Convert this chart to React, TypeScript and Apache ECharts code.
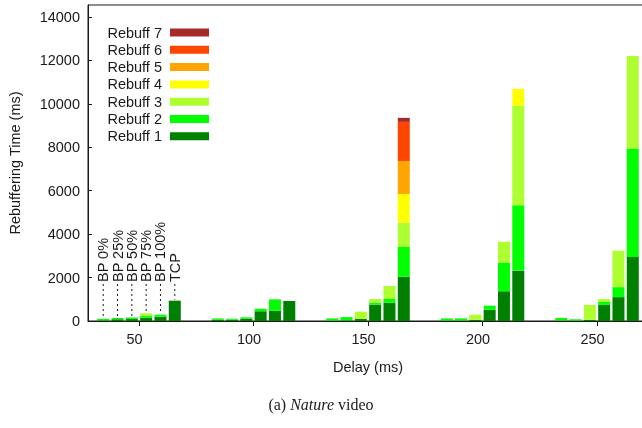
import React, { useEffect, useRef } from "react";
import * as echarts from "echarts";

const delays = [50, 100, 150, 200, 250];
const variants = ["BP 0%", "BP 25%", "BP 50%", "BP 75%", "BP 100%", "TCP"];
const levels = ["Rebuff 1", "Rebuff 2", "Rebuff 3", "Rebuff 4", "Rebuff 5", "Rebuff 6", "Rebuff 7"];
const levelColors = ["#008000", "#00ff00", "#adff2f", "#ffff00", "#ffa500", "#ff4500", "#a52a2a"];
const yTicks = [0, 2000, 4000, 6000, 8000, 10000, 12000, 14000];

// rows: delays (50..250); columns: variants (BP 0% .. TCP)
const rebuff1 = [
  [30, 80, 90, 153, 200, 936],
  [60, 60, 110, 445, 476, 921],
  [20, 30, 92, 752, 843, 2040],
  [20, 20, 50, 520, 1370, 2320],
  [20, 20, 50, 740, 1100, 2950],
];
const rebuff2 = [
  [70, 60, 70, 77, 92, 0],
  [60, 45, 60, 123, 522, 0],
  [100, 150, 0, 92, 170, 1370],
  [100, 100, 0, 185, 1320, 3010],
  [120, 60, 0, 135, 460, 5000],
];
const rebuff3 = [
  [0, 0, 0, 123, 0, 0],
  [0, 0, 0, 0, 0, 0],
  [0, 0, 338, 169, 600, 1120],
  [0, 0, 240, 0, 960, 4590],
  [0, 0, 690, 135, 1680, 4250],
];
const rebuff4 = [
  [0, 0, 0, 0, 0, 0],
  [0, 0, 0, 0, 0, 0],
  [0, 0, 0, 0, 0, 1320],
  [0, 0, 0, 0, 0, 770],
  [0, 0, 0, 0, 0, 0],
];
const rebuff5 = [
  [0, 0, 0, 0, 0, 0],
  [0, 0, 0, 0, 0, 0],
  [0, 0, 0, 0, 0, 1520],
  [0, 0, 0, 0, 0, 0],
  [0, 0, 0, 0, 0, 0],
];
const rebuff6 = [
  [0, 0, 0, 0, 0, 0],
  [0, 0, 0, 0, 0, 0],
  [0, 0, 0, 0, 0, 1800],
  [0, 0, 0, 0, 0, 0],
  [0, 0, 0, 0, 0, 0],
];
const rebuff7 = [
  [0, 0, 0, 0, 0, 0],
  [0, 0, 0, 0, 0, 0],
  [0, 0, 0, 0, 0, 185],
  [0, 0, 0, 0, 0, 0],
  [0, 0, 0, 0, 0, 0],
];
const levelData = [rebuff1, rebuff2, rebuff3, rebuff4, rebuff5, rebuff6, rebuff7];

// layout constants
const BAR_STEP = 6.25; // ms between neighbouring bars in a cluster
const BAR_W = 12;
const X_MIN = 27.73;
const X_MAX = 272.27;
const Y_MAX = 14553;
const FONT = "'Liberation Sans', Arial, Helvetica, sans-serif";
const SERIF = "'Liberation Serif', 'Times New Roman', serif";
const INK = "#1a1a1a";
const FS = 14.5;

export default function App() {
  const ref = useRef<HTMLDivElement>(null);
  useEffect(() => {
    if (!ref.current) return;
    const chart = echarts.init(ref.current, null, { renderer: "svg" });
    const xPos = (d: number, vi: number) => d + (vi - (variants.length - 1) / 2) * BAR_STEP;
    const lowerOf = (li: number, gi: number, vi: number) => {
      let s = 0;
      for (let k = 0; k < li; k++) s += levelData[k][gi][vi];
      return s;
    };

    const barSeries = levels.map((name, li) => ({
      name,
      type: "custom",
      itemStyle: { color: levelColors[li] },
      encode: { x: 0, y: [1, 2] },
      silent: true,
      data: delays.flatMap((d, gi) =>
        variants.map((_, vi) => {
          const lo = lowerOf(li, gi, vi);
          return [xPos(d, vi), lo, lo + levelData[li][gi][vi]];
        })
      ),
      renderItem: (params: any, api: any) => {
        const x = api.value(0);
        const lo = api.value(1);
        const hi = api.value(2);
        if (!(hi > lo)) return null;
        const p0 = api.coord([x, lo]);
        const p1 = api.coord([x, hi]);
        return {
          type: "rect",
          shape: { x: p0[0] - BAR_W / 2, y: p1[1], width: BAR_W, height: p0[1] - p1[1] },
          style: { fill: levelColors[li] },
        };
      },
    }));

    const annotData = variants.map((v, vi) => [xPos(delays[0], vi), lowerOf(levels.length, 0, vi)]);

    chart.setOption({
      animation: false,
      grid: {
        left: 88,
        top: 5,
        right: 0,
        bottom: 107,
        show: true,
        borderColor: INK,
        borderWidth: 1,
        outerBoundsMode: "none",
        containLabel: false,
      },
      legend: {
        orient: "vertical",
        left: 107,
        top: 25,
        padding: 0,
        align: "right",
        itemWidth: 39,
        itemHeight: 8,
        itemGap: 2.3,
        icon: "rect",
        selectedMode: false,
        data: [...levels].reverse(),
        textStyle: { fontSize: FS, color: INK, fontFamily: FONT, width: 55, lineHeight: 14, padding: [0, 3, 0, 0] },
      },
      xAxis: {
        type: "value",
        min: X_MIN,
        max: X_MAX,
        name: "Delay (ms)",
        nameLocation: "middle",
        nameGap: 38,
        nameTextStyle: { fontSize: FS, color: INK, fontFamily: FONT },
        axisLine: { show: true, onZero: false, lineStyle: { color: INK } },
        axisTick: { show: true, customValues: delays, length: 5, inside: false, lineStyle: { color: INK } },
        axisLabel: {
          customValues: delays,
          fontSize: FS,
          color: INK,
          fontFamily: FONT,
          margin: 10,
          padding: [0, 9, 0, 0],
          formatter: (v: number) => String(v),
        },
        splitLine: { show: false },
      },
      yAxis: {
        type: "value",
        min: 0,
        max: Y_MAX,
        name: "Rebuffering Time (ms)",
        nameLocation: "middle",
        nameGap: 66,
        nameRotate: 90,
        nameTextStyle: { fontSize: FS, color: INK, fontFamily: FONT },
        axisLine: { show: true, onZero: false, lineStyle: { color: INK } },
        axisTick: { show: true, customValues: yTicks, inside: true, length: 4, lineStyle: { color: INK } },
        axisLabel: {
          customValues: yTicks,
          fontSize: FS,
          color: INK,
          fontFamily: FONT,
          margin: 8,
          formatter: (v: number) => String(v),
        },
        splitLine: { show: false },
      },
      series: [
        ...barSeries,
        {
          type: "custom",
          name: "annotations",
          data: annotData,
          encode: { x: 0, y: 1 },
          z: 10,
          silent: true,
          renderItem: (params: any, api: any) => {
            const x = api.value(0);
            const top = api.value(1);
            const p = api.coord([x, top]);
            const base = api.coord([x, 0]);
            const textY = base[1] - 39;
            return {
              type: "group",
              children: [
                {
                  type: "line",
                  shape: { x1: p[0], y1: textY + 2, x2: p[0], y2: p[1] - 1 },
                  style: { stroke: INK, lineWidth: 1, lineDash: [2, 3] },
                },
                {
                  type: "text",
                  x: p[0],
                  y: textY,
                  rotation: Math.PI / 2,
                  style: {
                    text: variants[params.dataIndex],
                    fontSize: FS,
                    fontFamily: FONT,
                    fill: INK,
                    align: "left",
                    verticalAlign: "middle",
                  },
                },
              ],
            };
          },
        },
      ],
      graphic: [
        {
          type: "text",
          x: 321,
          y: 396,
          style: {
            text: "{n|(a) }{i|Nature}{n| video}",
            align: "center",
            rich: {
              n: { fontSize: 16, fontFamily: SERIF, fill: INK },
              i: { fontSize: 16, fontFamily: SERIF, fontStyle: "italic", fill: INK },
            },
          },
        },
      ],
    });
    return () => chart.dispose();
  }, []);
  return <div ref={ref} style={{ position: "fixed", left: 0, top: 0, width: 648, height: 428 }} />;
}
